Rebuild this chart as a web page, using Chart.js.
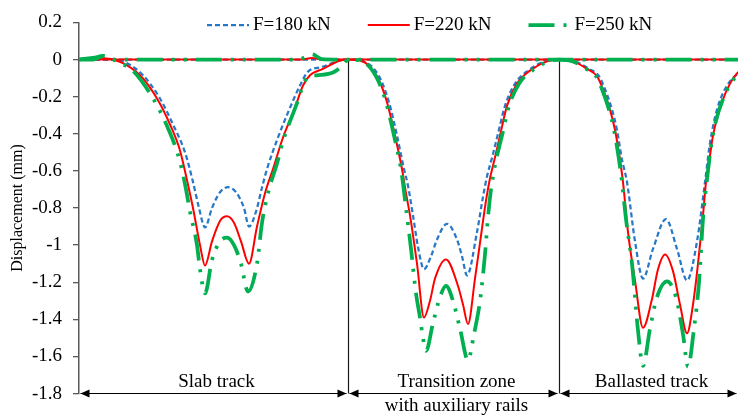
<!DOCTYPE html>
<html>
<head>
<meta charset="utf-8">
<script src="https://cdn.jsdelivr.net/npm/chart.js@4.4.1/dist/chart.umd.min.js"></script>
<style>
  html, body { margin: 0; padding: 0; background: #fff; }
  #wrap { width: 738px; height: 416px; }
</style>
</head>
<body>
<div id="wrap"><canvas id="dispChart"></canvas></div>
<script>
// Rail displacement along the track (position in m, displacement in mm)
const yTickValues = [0.2, 0, -0.2, -0.4, -0.6, -0.8, -1, -1.2, -1.4, -1.6, -1.8];

// section limits along the track and their names
const sectionBounds = [0, 26.9, 48.0, 65.9];
const sectionNames = [['Slab track'], ['Transition zone', 'with auxiliary rails'], ['Ballasted track']];

const forceLabels = ['F=180 kN', 'F=220 kN', 'F=250 kN'];

// [position, displacement] under the moving load
const disp180 = [
	[0, 0], [3.4, 0], [4.8, -0.02], [6.4, -0.085], [8.1, -0.21], [9.4, -0.35], [10.6, -0.5], [11.4, -0.66],
	[12.0, -0.8], [12.6, -0.905], [13.3, -0.8], [14.1, -0.715], [14.9, -0.688], [15.7, -0.715], [16.5, -0.8],
	[17.0, -0.9], [17.7, -0.82], [18.3, -0.69], [18.8, -0.59], [19.9, -0.42], [21.1, -0.26], [22.1, -0.14],
	[22.9, -0.065], [24.3, -0.04], [26.1, -0.005], [26.9, 0],
	[28.1, -0.005], [29.9, -0.08], [31.0, -0.23], [31.8, -0.41], [32.5, -0.59], [32.9, -0.68], [33.4, -0.84],
	[33.9, -1.01], [34.5, -1.13], [35.2, -1.06], [35.8, -0.97], [36.8, -0.885], [37.8, -0.97], [38.3, -1.06],
	[38.8, -1.163], [39.8, -0.93], [40.4, -0.74], [40.8, -0.63], [41.3, -0.53], [41.9, -0.40], [42.6, -0.25],
	[43.6, -0.13], [44.9, -0.06], [46.6, -0.01], [48.0, 0],
	[49.6, -0.01], [51.0, -0.05], [52.0, -0.09], [52.6, -0.16], [53.3, -0.27], [53.8, -0.38], [54.3, -0.54],
	[54.8, -0.66], [55.6, -0.98], [56.4, -1.18], [57.4, -1.02], [58.7, -0.86], [59.8, -1.02], [60.8, -1.19],
	[61.8, -0.98], [62.6, -0.66], [63.1, -0.45], [63.8, -0.27], [64.8, -0.14], [65.8, -0.08], [66.6, -0.04]
];
const disp220 = [
	[0, 0], [1.1, 0.008], [1.8, 0.012], [2.7, 0.005], [3.4, 0], [4.4, -0.02], [6.1, -0.085], [7.8, -0.21],
	[9.1, -0.35], [10.1, -0.49], [10.8, -0.65], [11.4, -0.8], [12.1, -1.0], [12.6, -1.11], [13.3, -0.98],
	[14.1, -0.87], [14.8, -0.845], [15.5, -0.88], [16.2, -0.98], [17.0, -1.1], [17.8, -0.9], [18.6, -0.72],
	[19.4, -0.59], [20.4, -0.42], [21.6, -0.26], [22.4, -0.14], [23.1, -0.085], [24.4, -0.05], [26.1, -0.005], [26.9, 0],
	[28.1, -0.005], [29.8, -0.09], [30.8, -0.23], [31.6, -0.41], [32.3, -0.59], [32.7, -0.72], [33.1, -0.84],
	[33.8, -1.1], [34.5, -1.39], [35.1, -1.3], [35.6, -1.18], [36.7, -1.077], [37.9, -1.22], [38.4, -1.32],
	[38.9, -1.425], [39.6, -1.18], [40.3, -0.91], [40.7, -0.76], [41.1, -0.64], [41.5, -0.55], [42.1, -0.41],
	[42.8, -0.25], [43.8, -0.13], [45.1, -0.06], [46.8, -0.01], [48.0, 0],
	[49.4, -0.01], [50.8, -0.05], [51.8, -0.09], [52.4, -0.16], [53.1, -0.27], [53.6, -0.38], [54.1, -0.54],
	[54.4, -0.66], [54.9, -0.93], [55.6, -1.19], [56.4, -1.445], [57.3, -1.29], [57.9, -1.13], [58.6, -1.05],
	[59.4, -1.14], [60.1, -1.32], [60.8, -1.475], [61.4, -1.32], [61.9, -1.1], [62.4, -0.84], [62.7, -0.66],
	[63.0, -0.555], [63.4, -0.41], [64.3, -0.23], [65.1, -0.13], [65.8, -0.075], [66.6, -0.04]
];
const disp250 = [
	[0, 0], [1.6, 0.01], [2.4, 0.02], [3.2, 0.008], [4.1, -0.02], [5.2, -0.05], [7.3, -0.2], [8.9, -0.37],
	[10.1, -0.55], [10.7, -0.7], [11.1, -0.82], [11.8, -1.0], [12.1, -1.13], [12.6, -1.26],
	[13.3, -1.08], [14.1, -0.98], [14.8, -0.96], [15.5, -1.0], [16.2, -1.1], [16.9, -1.25], [17.8, -1.1],
	[18.3, -0.88], [19.0, -0.7], [19.8, -0.56], [20.4, -0.44], [21.7, -0.25], [22.8, -0.1], [23.8, -0.085],
	[25.4, -0.07], [26.4, -0.03], [26.9, 0],
	[28.1, -0.005], [29.7, -0.09], [30.7, -0.23], [31.5, -0.41], [32.2, -0.59], [32.7, -0.8], [33.2, -1.02],
	[33.7, -1.26], [34.1, -1.39], [34.4, -1.5], [34.7, -1.57], [35.4, -1.42], [36.1, -1.28], [36.7, -1.22],
	[37.4, -1.3], [38.1, -1.45], [38.9, -1.62], [39.5, -1.48], [40.1, -1.3], [40.6, -1.05], [40.9, -0.85],
	[41.2, -0.7], [41.6, -0.57], [42.3, -0.41], [43.0, -0.25], [44.0, -0.13], [45.3, -0.06], [46.9, -0.01], [48.0, 0],
	[49.4, -0.01], [50.7, -0.05], [51.7, -0.09], [52.3, -0.16], [53.0, -0.27], [53.5, -0.38], [54.0, -0.54],
	[54.3, -0.66], [54.7, -0.86], [55.3, -1.1], [55.9, -1.46], [56.4, -1.65], [57.1, -1.45], [57.8, -1.28],
	[58.8, -1.195], [59.7, -1.28], [60.4, -1.48], [60.9, -1.655], [61.5, -1.45], [62.0, -1.2], [62.4, -0.86],
	[62.9, -0.6], [63.2, -0.47], [63.6, -0.35], [64.5, -0.2], [65.3, -0.12], [66.0, -0.07], [66.6, -0.04]
];

// far rail, stays at zero
const zero180 = [[0, 0], [70, 0]];
const zero220 = [[0, 0], [22.3, 0], [23.3, 0.008], [24.3, 0], [70, 0]];
const zero250 = [[0, 0], [1.4, 0], [2.4, 0.018], [3.4, 0], [21.9, 0], [23.3, 0.028], [24.3, 0.002], [25.5, 0], [70, 0]];

const serif = "'Liberation Serif', 'Times New Roman', serif";

// line styles per load
const styles = [
	{ color: '#2878C8', width: 2.25, dash: [5, 3] },
	{ color: '#FF0000', width: 2, dash: [] },
	{ color: '#00B050', width: 3.75, dash: [26, 9, 3, 9, 3, 9] }
];

const toPoints = arr => arr.map(p => ({ x: p[0], y: p[1] }));

function makeSet(i, arr, inLegend) {
	return {
		label: forceLabels[i],
		data: toPoints(arr),
		borderColor: styles[i].color,
		borderWidth: styles[i].width,
		borderDash: styles[i].dash,
		pointRadius: 0,
		fill: false,
		cubicInterpolationMode: 'monotone',
		order: 2 - i,
		inLegend: inLegend
	};
}

// boundary lines, arrows, section names and legend
const trackMarks = {
	id: 'trackMarks',
	beforeDatasetsDraw(chart) {
		const { ctx, scales: { x, y } } = chart;
		const y0 = y.getPixelForValue(0), yb = y.getPixelForValue(-1.8);
		ctx.save();
		ctx.strokeStyle = '#1a1a1a';
		ctx.lineWidth = 1.2;
		sectionBounds.slice(1, -1).forEach(b => {
			const px = Math.round(x.getPixelForValue(b)) + 0.5;
			ctx.beginPath();
			ctx.moveTo(px, y0);
			ctx.lineTo(px, yb);
			ctx.stroke();
		});
		ctx.restore();
	},
	afterDatasetsDraw(chart) {
		const { ctx, scales: { x, y } } = chart;
		const yb = Math.round(y.getPixelForValue(-1.8)) - 0.5;
		ctx.save();
		ctx.strokeStyle = '#000';
		ctx.fillStyle = '#000';
		ctx.lineWidth = 1.2;
		const head = (tip, dir) => {
			ctx.beginPath();
			ctx.moveTo(tip, yb);
			ctx.lineTo(tip - dir * 9, yb - 4);
			ctx.lineTo(tip - dir * 9, yb + 4);
			ctx.closePath();
			ctx.fill();
		};
		ctx.font = '19px ' + serif;
		ctx.textAlign = 'center';
		ctx.textBaseline = 'alphabetic';
		for (let i = 0; i < sectionNames.length; i++) {
			const a = x.getPixelForValue(sectionBounds[i]) + 1.5;
			const b = Math.min(x.getPixelForValue(sectionBounds[i + 1]) - 1.5, chart.width - 1);
			ctx.beginPath();
			ctx.moveTo(a, yb);
			ctx.lineTo(b, yb);
			ctx.stroke();
			head(a, -1);
			head(b, 1);
			const cx = (a + b) / 2 + 3;
			sectionNames[i].forEach((t, k) => ctx.fillText(t, cx, 387 + k * 24));
		}

		// legend
		let lx = 207;
		const ly = 25;
		ctx.textAlign = 'left';
		ctx.textBaseline = 'middle';
		chart.data.datasets.filter(d => d.inLegend).forEach(d => {
			ctx.strokeStyle = d.borderColor;
			ctx.lineWidth = d.borderWidth;
			ctx.setLineDash(d.borderDash);
			ctx.beginPath();
			ctx.moveTo(lx, ly);
			ctx.lineTo(lx + 42, ly);
			ctx.stroke();
			ctx.setLineDash([]);
			ctx.fillStyle = '#000';
			ctx.fillText(d.label, lx + 46, ly);
			lx += 46 + ctx.measureText(d.label).width + 37;
		});
		ctx.restore();
	}
};

new Chart(document.getElementById('dispChart'), {
	type: 'line',
	data: {
		datasets: [
			makeSet(0, zero180, false), makeSet(1, zero220, false), makeSet(2, zero250, false),
			makeSet(0, disp180, true), makeSet(1, disp220, true), makeSet(2, disp250, true)
		]
	},
	options: {
		responsive: true,
		maintainAspectRatio: false,
		animation: false,
		events: [],
		layout: { padding: { top: 18, bottom: 22, left: 0, right: 0 } },
		plugins: { legend: { display: false }, tooltip: { enabled: false } },
		scales: {
			x: { type: 'linear', display: false, min: sectionBounds[0], max: sectionBounds[3] },
			y: {
				min: -1.8,
				max: 0.2,
				afterBuildTicks: s => { s.ticks = yTickValues.map(v => ({ value: v })); },
				afterFit: s => { s.width = 79; },
				ticks: {
					padding: 11,
					color: '#000',
					font: { family: serif, size: 19 },
					callback: v => String(+Number(v).toFixed(1))
				},
				grid: { drawOnChartArea: false, drawTicks: true, tickLength: 6, color: '#595959', lineWidth: 1.3 },
				border: { display: true, color: '#595959', width: 1.5 },
				title: {
					display: true,
					text: 'Displacement (mm)',
					color: '#000',
					font: { family: serif, size: 16 },
					padding: { top: 8, bottom: 0 }
				}
			}
		}
	},
	plugins: [trackMarks]
});
</script>
</body>
</html>
